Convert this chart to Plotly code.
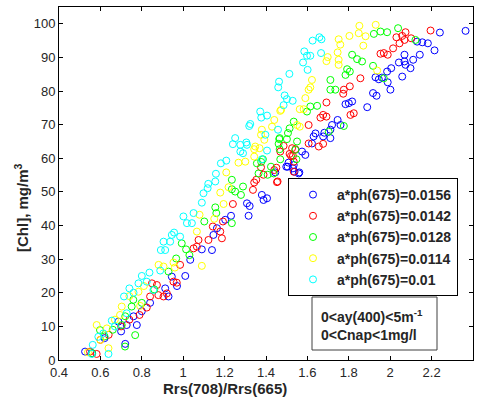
import plotly.graph_objects as go

# ---- data ----
series_names = ["a*ph(675)=0.0156", "a*ph(675)=0.0142", "a*ph(675)=0.0128",
                "a*ph(675)=0.0114", "a*ph(675)=0.01"]
series_colors = ["#0000ff", "#ff0000", "#00ff00", "#ffff00", "#00ffff"]

blue_x = [0.526, 0.56, 0.62, 0.687, 0.72, 0.727, 0.70, 0.776, 0.76, 0.80, 0.84, 0.913, 0.929,
          0.945, 0.97, 1.01, 1.034, 1.09, 1.139, 1.146, 1.163, 1.203, 1.231, 1.308, 1.316,
          1.321, 1.388, 1.38, 1.405, 1.445, 1.498, 1.505, 1.509, 1.53, 1.538, 1.534, 1.558,
          1.561, 1.574, 1.59, 1.622, 1.63, 1.639, 1.676, 1.682, 1.711, 1.711, 1.719, 1.746,
          1.76, 1.784, 1.8, 1.816, 1.889, 1.917, 1.934, 1.929, 1.945, 1.96, 1.988, 1.985,
          2.001, 2.005, 2.042, 2.058, 2.069, 2.069, 2.074, 2.098, 2.111, 2.13, 2.143, 2.155,
          2.182, 2.214, 2.24, 2.364]
blue_y = [2.5, 2.0, 6.5, 11.4, 4.8, 10.4, 8.5, 10.4, 13.0, 14.5, 17.0, 21.3, 18.9,
          24.8, 22.0, 25.0, 29.8, 32.9, 32.7, 37.2, 39.2, 41.7, 42.9, 46.6, 42.9,
          45.8, 47.6, 49.1, 48.1, 55.8, 57.5, 57.5, 58.7, 57.0, 56.0, 58.0, 55.5,
          55.8, 62.0, 61.0, 64.4, 66.5, 67.4, 66.5, 67.6, 68.5, 66.0, 69.9, 71.4,
          69.9, 76.1, 76.4, 76.9, 75.2, 79.4, 78.6, 84.1, 83.5, 84.0, 82.6, 85.8,
          80.4, 86.8, 88.5, 84.3, 88.8, 90.8, 87.8, 86.8, 89.3, 94.7, 90.8, 94.5,
          94.2, 92.1, 97.4, 97.9]

red_x = [0.55, 0.582, 0.60, 0.64, 0.70, 0.74, 0.789, 0.824, 0.84, 0.873, 0.849, 0.88, 0.905,
         0.921, 0.953, 0.969, 0.985, 1.05, 1.066, 1.074, 1.122, 1.143, 1.179, 1.187, 1.192,
         1.24, 1.337, 1.343, 1.353, 1.376, 1.388, 1.44, 1.45, 1.453, 1.456, 1.469, 1.485,
         1.514, 1.521, 1.526, 1.53, 1.534, 1.534, 1.542, 1.606, 1.606, 1.655, 1.663, 1.676,
         1.676, 1.692, 1.692, 1.773, 1.776, 1.805, 1.808, 1.824, 1.856, 1.953, 1.969, 1.988,
         2.014, 2.03, 2.045, 2.058, 2.069, 2.074, 2.101, 2.195]
red_y = [2.5, 1.8, 6.0, 7.5, 10.0, 12.0, 13.4, 15.6, 18.9, 22.3, 22.8, 19.3, 18.9,
         19.8, 23.3, 23.0, 28.3, 33.2, 33.7, 35.7, 35.7, 39.7, 38.2, 36.2, 41.2,
         46.4, 50.6, 52.8, 53.6, 57.3, 55.1, 56.5, 57.2, 52.9, 53.1, 62.0, 63.7,
         61.3, 60.7, 63.0, 60.7, 56.0, 59.0, 62.7, 64.4, 69.9, 63.5, 72.1, 72.9,
         64.3, 72.4, 76.6, 79.2, 80.4, 81.4, 72.9, 73.4, 83.8, 91.1, 91.3, 90.8,
         92.7, 96.0, 94.2, 96.4, 95.2, 97.5, 95.7, 98.0]

green_x = [0.56, 0.598, 0.62, 0.66, 0.703, 0.719, 0.72, 0.751, 0.759, 0.768, 0.80, 0.86, 0.929,
           0.966, 0.993, 1.014, 1.03, 1.102, 1.155, 1.16, 1.235, 1.235, 1.235, 1.251, 1.279,
           1.289, 1.356, 1.364, 1.377, 1.385, 1.408, 1.424, 1.437, 1.461, 1.464, 1.466, 1.466,
           1.469, 1.501, 1.506, 1.514, 1.534, 1.547, 1.542, 1.55, 1.598, 1.614, 1.647, 1.703,
           1.711, 1.711, 1.735, 1.776, 1.784, 1.792, 1.805, 1.816, 1.84, 1.864, 1.917, 1.921,
           1.953, 1.969, 1.985, 2.038, 2.122]
green_y = [2.0, 8.9, 7.0, 9.0, 10.4, 4.0, 13.0, 15.9, 17.9, 7.4, 17.0, 21.0, 26.3,
           30.2, 34.7, 32.9, 31.2, 41.2, 45.4, 43.7, 40.7, 50.8, 53.6, 50.1, 49.1,
           51.6, 58.5, 55.5, 58.9, 59.7, 55.1, 57.5, 55.5, 64.3, 65.7, 66.0, 62.7,
           59.7, 65.7, 67.5, 68.9, 70.9, 59.7, 62.5, 65.0, 73.9, 75.4, 75.6, 67.9,
           83.3, 80.4, 80.4, 69.6, 84.8, 86.5, 85.8, 90.8, 89.5, 88.8, 87.5, 97.0,
           97.7, 83.8, 97.5, 98.7, 95.2]

yellow_x = [0.54, 0.582, 0.60, 0.639, 0.631, 0.67, 0.695, 0.703, 0.74, 0.784, 0.792, 0.81, 0.881,
            0.905, 0.953, 0.96, 1.066, 1.079, 1.09, 1.15, 1.195, 1.179, 1.208, 1.219, 1.267,
            1.30, 1.343, 1.343, 1.348, 1.369, 1.376, 1.38, 1.392, 1.429, 1.44, 1.469, 1.473,
            1.55, 1.563, 1.563, 1.582, 1.59, 1.606, 1.614, 1.622, 1.692, 1.698, 1.746, 1.751,
            1.751, 1.751, 1.759, 1.803, 1.848, 1.851, 1.87, 1.881, 1.93, 1.937]
yellow_y = [2.3, 10.4, 6.0, 3.5, 9.4, 12.0, 13.4, 15.9, 19.0, 20.3, 16.1, 22.0, 28.3,
            27.8, 29.0, 27.5, 38.2, 43.2, 28.0, 42.0, 46.4, 49.8, 55.8, 51.4, 58.7,
            59.0, 60.5, 62.7, 63.5, 63.0, 67.0, 68.5, 65.5, 69.4, 71.4, 74.1, 74.4,
            69.9, 74.6, 69.4, 74.6, 77.9, 80.4, 81.1, 83.3, 88.9, 90.1, 91.5, 95.4,
            89.3, 87.8, 93.8, 96.4, 97.2, 99.4, 93.5, 96.3, 99.7, 86.1]

cyan_x = [0.558, 0.563, 0.59, 0.639, 0.614, 0.655, 0.67, 0.714, 0.727, 0.74, 0.76, 0.784, 0.80,
          0.824, 0.837, 0.856, 0.889, 0.892, 0.905, 0.913, 0.937, 0.945, 0.956, 0.985, 1.001,
          1.018, 1.042, 1.05, 1.09, 1.098, 1.118, 1.121, 1.155, 1.158, 1.182, 1.208, 1.24,
          1.251, 1.276, 1.276, 1.289, 1.305, 1.308, 1.319, 1.324, 1.372, 1.377, 1.38, 1.397,
          1.405, 1.405, 1.458, 1.459, 1.463, 1.485, 1.49, 1.501, 1.513, 1.529, 1.579, 1.585,
          1.598, 1.601, 1.614, 1.625, 1.658, 1.666, 1.668]
cyan_y = [1.8, 4.5, 6.9, 1.8, 7.9, 11.7, 10.0, 18.9, 13.9, 21.3, 20.0, 22.8, 25.0,
          23.3, 26.0, 20.8, 26.6, 32.7, 35.2, 32.7, 35.2, 37.2, 37.9, 36.7, 42.7,
          40.7, 40.7, 43.7, 46.8, 49.6, 51.1, 52.4, 53.1, 55.4, 58.5, 59.3, 64.2,
          66.0, 64.0, 62.0, 61.5, 64.7, 64.0, 69.6, 70.2, 73.9, 72.1, 59.7, 67.0,
          72.7, 62.3, 68.5, 81.1, 82.8, 75.8, 78.7, 77.6, 85.1, 77.1, 88.5, 91.8,
          90.5, 86.3, 90.5, 95.0, 96.0, 91.3, 95.4]

series_x = [blue_x, red_x, green_x, yellow_x, cyan_x]
series_y = [blue_y, red_y, green_y, yellow_y, cyan_y]

x_ticks = [0.4, 0.6, 0.8, 1.0, 1.2, 1.4, 1.6, 1.8, 2.0, 2.2, 2.4]
x_tick_labels = ["0.4", "0.6", "0.8", "1", "1.2", "1.4", "1.6", "1.8", "2", "2.2", "2.4"]
y_ticks = [0, 10, 20, 30, 40, 50, 60, 70, 80, 90, 100]

FONT = "Arial, Liberation Sans, Helvetica, sans-serif"

fig = go.Figure()
for name, col, xs, ys in zip(series_names, series_colors, series_x, series_y):
    fig.add_trace(go.Scatter(
        x=xs, y=ys, mode="markers", name=name,
        marker=dict(symbol="circle-open", size=7, color=col, line=dict(width=1, color=col)),
    ))

fig.update_layout(
    width=481, height=400,
    margin=dict(l=59, r=8, t=7, b=40),
    paper_bgcolor="white", plot_bgcolor="white",
    font=dict(family=FONT, size=13, color="#262626"),
    showlegend=True,
    legend=dict(
        x=(288 - 59) / 414, y=(360 - 178) / 353, xanchor="left", yanchor="top",
        bordercolor="black", borderwidth=1, bgcolor="white",
        font=dict(family=FONT, size=14, color="#262626", weight="bold"),
        itemwidth=38, tracegroupgap=0,
    ),
)
fig.update_xaxes(
    range=[0.4, 2.4], tickvals=x_ticks, ticktext=x_tick_labels,
    showgrid=False, zeroline=False,
    showline=True, linecolor="black", linewidth=1, mirror="ticks",
    ticks="inside", ticklen=4, tickcolor="black",
)
fig.update_yaxes(
    range=[0, 105], tickvals=y_ticks,
    showgrid=False, zeroline=False,
    showline=True, linecolor="black", linewidth=1, mirror="ticks",
    ticks="inside", ticklen=4, tickcolor="black",
)

# axis titles positioned as in the reference
fig.add_annotation(text="<b>Rrs(708)/Rrs(665)</b>", xref="paper", yref="paper",
                   x=(225 - 59) / 414, y=(360 - 388) / 353, xanchor="center", yanchor="middle",
                   showarrow=False, font=dict(family=FONT, size=15, color="#262626"))
fig.add_annotation(text="<b>[Chl], mg/m<sup>3</sup></b>", xref="paper", yref="paper",
                   x=(22 - 59) / 414, y=(360 - 208) / 353, xanchor="center", yanchor="middle",
                   textangle=-90, showarrow=False, font=dict(family=FONT, size=15, color="#262626"))

# info box
fig.add_shape(type="rect", xref="paper", yref="paper",
              x0=(312 - 59) / 414, x1=(437 - 59) / 414,
              y0=(360 - 350) / 353, y1=(360 - 297) / 353,
              line=dict(color="#404040", width=1), fillcolor="white", layer="above")
fig.add_annotation(text="<b>0&lt;ay(400)&lt;5m<sup>-1</sup><br>0&lt;Cnap&lt;1mg/l</b>",
                   xref="paper", yref="paper",
                   x=(319 - 59) / 414, y=(360 - 325) / 353, xanchor="left", yanchor="middle",
                   align="left", showarrow=False, font=dict(family=FONT, size=14, color="#262626"))

fig.write_html("out.html", config={"displayModeBar": False},
               post_script="document.body.style.margin='0';")
